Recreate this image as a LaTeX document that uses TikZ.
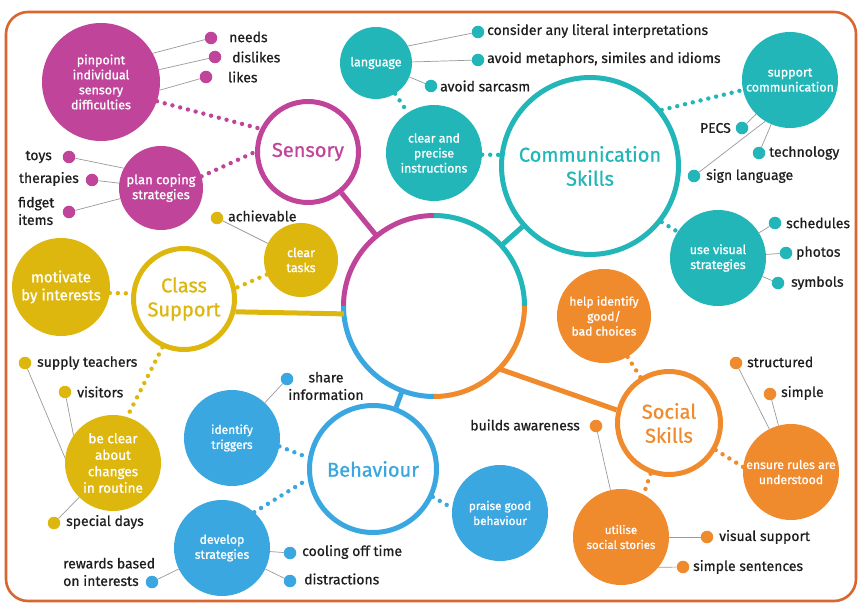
\documentclass[tikz,border=0pt]{standalone}
\usepackage{fontspec}
\setmainfont{Fira Sans}
\newfontfamily\lblfont{Fira Sans}[FakeBold=0.7]
\newfontfamily\blobfont{Fira Sans}[FakeBold=1.1]
\newfontfamily\ringfont{Fira Sans}[FakeBold=0.8]
\definecolor{cmag}{HTML}{C1449B}
\definecolor{cteal}{HTML}{22B6B8}
\definecolor{cyel}{HTML}{DDB70E}
\definecolor{cblue}{HTML}{3AA7E0}
\definecolor{corg}{HTML}{EF8A2D}
\definecolor{cbord}{HTML}{D9652F}
\definecolor{clbl}{HTML}{1E1E1E}
\definecolor{cthin}{HTML}{9A9A9A}
\begin{document}
\begin{tikzpicture}[x=1pt,y=-1pt,
 ring/.style={circle, draw=#1, line width=5pt, fill=white, inner sep=0pt, text=#1, align=center, font=\ringfont\fontsize{20}{24}\selectfont},
 blob/.style={circle, fill=#1, inner sep=0pt, text=white, align=center, font=\blobfont\fontsize{12.3}{15}\selectfont},
 pip/.style={circle, fill=#1, inner sep=0pt, minimum size=12.5pt},
 lbl/.style={text=clbl, inner sep=0pt, font=\lblfont\fontsize{14}{17.5}\selectfont},
 thin/.style={draw=cthin, line width=0.7pt},
 dotline/.style={draw=#1, line width=4.4pt, line cap=round, dash pattern=on 0pt off 8pt},
 hubline/.style={draw=#1, line width=5pt},
]
\useasboundingbox (0,0) rectangle (865,604);
\fill[white] (0,0) rectangle (865,604);
\draw[cbord, line width=2.6pt, rounded corners=22pt] (6,12) rectangle (856,601);

% hub
\node[circle, minimum size=181pt, inner sep=0pt, outer sep=0pt] (hub) at (434,306) {};
\draw[cmag, line width=5pt] (hub.west) arc[start angle=180, end angle=90, radius=90.5pt];
\draw[cteal, line width=5pt] (hub.north) arc[start angle=90, end angle=0, radius=90.5pt];
\draw[corg, line width=5pt] (hub.east) arc[start angle=0, end angle=-90, radius=90.5pt];
\draw[cblue, line width=5pt] (hub.south) arc[start angle=-90, end angle=-180, radius=90.5pt];

% rings
\node[ring=cmag, minimum size=101pt] (sens) at (308,152) {Sensory};
\node[ring=cteal, minimum size=177pt] (comm) at (590,166) {Communication\\Skills};
\node[ring=cyel, minimum size=101pt] (class) at (184,299) {Class\\Support};
\node[ring=cblue, minimum size=127pt] (beh) at (373,469) {Behaviour};
\node[ring=corg, minimum size=103pt] (soc) at (669,423) {Social\\Skills};

\draw[hubline=cmag] (hub) -- (sens);
\draw[hubline=cteal] (hub) -- (comm);
\draw[hubline=cyel] (class.-14) -- (hub.185);
\draw[hubline=cblue] (hub) -- (beh);
\draw[hubline=corg] (hub.-44) -- (soc.166);

% ---------- Sensory
\node[blob=cmag, minimum size=118pt, font=\blobfont\fontsize{12.5}{15}\selectfont] (pin) at (101,82) {pinpoint\\individual\\sensory\\difficulties};
\node[blob=cmag, minimum size=84pt, font=\blobfont\fontsize{13}{15}\selectfont] (plan) at (161,188) {plan coping\\strategies};
\node[pip=cmag] (pneeds) at (211,38) {};
\node[lbl, anchor=west] (tneeds) at (229,37) {needs};
\node[pip=cmag] (pdis) at (215,57) {};
\node[lbl, anchor=west] (tdis) at (232,57) {dislikes};
\node[pip=cmag] (plikes) at (206,77) {};
\node[lbl, anchor=west] (tlikes) at (228,77) {likes};
\node[pip=cmag] (ptoys) at (69,157) {};
\node[lbl, anchor=east] (ttoys) at (52,157) {toys};
\node[pip=cmag] (pther) at (92,180) {};
\node[lbl, anchor=east] (tther) at (79,179) {therapies};
\node[pip=cmag] (pfid) at (69,212) {};
\node[lbl, anchor=west, align=left] (tfid) at (18,211) {fidget\\items};
\draw[thin] (pneeds) -- (pin.29);
\draw[thin] (pdis) -- (pin.12);
\draw[thin] (plikes) -- (pin.-8);
\draw[thin] (ptoys) -- (plan.152);
\draw[thin] (pther) -- (plan);
\draw[thin] (pfid) -- (plan);
\draw[dotline=cmag] (pin.-19) -- (sens.154);
\draw[dotline=cmag] (plan.16) -- (sens.180);

% ---------- Communication
\node[blob=cteal, minimum size=72pt, font=\blobfont\fontsize{12.5}{15}\selectfont] (lang) at (376,63) {language};
\node[blob=cteal, minimum size=96pt] (clear) at (434,153) {clear and\\precise\\instructions};
\node[blob=cteal, minimum size=96pt, font=\blobfont\fontsize{12.5}{15}\selectfont] (supp) at (790,80) {support\\communication};
\node[blob=cteal, minimum size=96pt, font=\blobfont\fontsize{12.5}{15}\selectfont] (vis) at (718,258) {use visual\\strategies};
\node[pip=cteal] (pcons) at (478,32) {};
\node[lbl, anchor=west] (tcons) at (487,31) {consider any literal interpretations};
\node[pip=cteal] (pmet) at (478,60) {};
\node[lbl, anchor=west] (tmet) at (487,59) {avoid metaphors, similes and idioms};
\node[pip=cteal] (psar) at (431,86) {};
\node[lbl, anchor=west] (tsar) at (440,86) {avoid sarcasm};
\node[pip=cteal] (ppecs) at (742,128) {};
\node[lbl, anchor=east] (tpecs) at (731,128) {PECS};
\node[pip=cteal] (ptech) at (759,153) {};
\node[lbl, anchor=west] (ttech) at (769,153) {technology};
\node[pip=cteal] (psign) at (694,176) {};
\node[lbl, anchor=west] (tsign) at (706,176) {sign language};
\node[pip=cteal] (psch) at (775,223) {};
\node[lbl, anchor=west] (tsch) at (786,223) {schedules};
\node[pip=cteal] (ppho) at (786,253) {};
\node[lbl, anchor=west] (tpho) at (796,253) {photos};
\node[pip=cteal] (psym) at (778,283) {};
\node[lbl, anchor=west] (tsym) at (791,283) {symbols};
\draw[thin] (lang.28) -- (pcons);
\draw[thin] (lang) -- (pmet);
\draw[thin] (lang) -- (psar);
\draw[thin] (supp) -- (ppecs);
\draw[thin] (supp) -- (ptech);
\draw[thin] (supp.239) -- (psign);
\draw[thin] (vis) -- (psch);
\draw[thin] (vis) -- (ppho);
\draw[thin] (vis) -- (psym);
\draw[dotline=cteal] (lang.-58) -- (clear.123);
\draw[dotline=cteal] (clear.-2) -- (comm.173);
\draw[dotline=cteal] (comm.38) -- (supp.192);
\draw[dotline=cteal] (comm.-38) -- (vis.147);

% ---------- Class support
\node[blob=cyel, minimum size=98pt, font=\blobfont\fontsize{15}{18}\selectfont] (mot) at (61,287) {motivate\\by interests};
\node[blob=cyel, minimum size=74pt, font=\blobfont\fontsize{12.5}{15}\selectfont] (task) at (301,260) {clear\\tasks};
\node[blob=cyel, minimum size=96pt, font=\blobfont\fontsize{13.5}{16.5}\selectfont] (bec) at (113,463) {be clear\\about\\changes\\in routine};
\node[pip=cyel] (pach) at (217,218) {};
\node[lbl, anchor=west] (tach) at (228,216) {achievable};
\node[pip=cyel] (psup) at (25,363) {};
\node[lbl, anchor=west] (tsup) at (37,363) {supply teachers};
\node[pip=cyel] (pvis) at (65,392) {};
\node[lbl, anchor=west] (tvis) at (77,392) {visitors};
\node[pip=cyel] (pspe) at (54,523) {};
\node[lbl, anchor=west] (tspe) at (66,522) {special days};
\draw[thin] (pach) -- (task);
\draw[thin] (psup) -- (bec.174);
\draw[thin] (pvis) -- (bec.145);
\draw[thin] (pspe) -- (bec);
\draw[dotline=cyel] (mot.-7) -- (class.174);
\draw[dotline=cyel] (task.203) -- (class.12);
\draw[dotline=cyel] (class.246) -- (bec.73);

% ---------- Behaviour
\node[blob=cblue, minimum size=96pt, font=\blobfont\fontsize{12}{15}\selectfont] (trig) at (232,438) {identify\\triggers};
\node[blob=cblue, minimum size=96pt] (dev) at (222,548) {develop\\strategies};
\node[blob=cblue, minimum size=96pt, font=\blobfont\fontsize{11.7}{15}\selectfont] (pra) at (500,513) {praise good\\behaviour};
\node[pip=cblue] (psha) at (287,379) {};
\node[lbl, align=center] (tsha) at (326,386) {share\\information};
\node[pip=cblue] (pcoo) at (290,553) {};
\node[lbl, anchor=west] (tcoo) at (302,552) {cooling off time};
\node[pip=cblue] (pdst) at (290,581) {};
\node[lbl, anchor=west] (tdst) at (304,579) {distractions};
\node[pip=cblue] (prew) at (152,582) {};
\node[lbl, anchor=west, align=left] (trew) at (63,572) {rewards based\\on interests};
\draw[thin] (trig) -- (psha);
\draw[thin] (dev) -- (pcoo);
\draw[thin] (dev) -- (pdst);
\draw[thin] (dev) -- (prew);
\draw[dotline=cblue] (trig.-10) -- (beh.170);
\draw[dotline=cblue] (dev.48) -- (beh.189);
\draw[dotline=cblue] (beh.-25) -- (pra.174);

% ---------- Social skills
\node[blob=corg, minimum size=94pt, font=\blobfont\fontsize{12}{15}\selectfont] (help) at (604,316) {help identify\\good/\\bad choices};
\node[blob=corg, minimum size=96pt, font=\blobfont\fontsize{12.2}{15}\selectfont] (ens) at (791,472) {ensure rules are\\understood};
\node[blob=corg, minimum size=96pt, font=\blobfont\fontsize{11.5}{15}\selectfont] (uti) at (621,537) {utilise\\social stories};
\node[pip=corg] (pstr) at (736,363) {};
\node[lbl, anchor=west] (tstr) at (747,362) {structured};
\node[pip=corg] (psim) at (770,394) {};
\node[lbl, anchor=west] (tsim) at (781,393) {simple};
\node[pip=corg] (pbui) at (596,426) {};
\node[lbl, anchor=east] (tbui) at (580,425) {builds awareness};
\node[pip=corg] (pvsu) at (707,537) {};
\node[lbl, anchor=west] (tvsu) at (719,537) {visual support};
\node[pip=corg] (pssn) at (683,567) {};
\node[lbl, anchor=west] (tssn) at (693,567) {simple sentences};
\draw[thin] (pstr) -- (ens);
\draw[thin] (psim) -- (ens);
\draw[thin] (pbui) -- (uti);
\draw[thin] (uti) -- (pvsu);
\draw[thin] (uti.-39) -- (pssn);
\draw[dotline=corg] (help.-60) -- (soc.122);
\draw[dotline=corg] (soc.-30) -- (ens.174);
\draw[dotline=corg] (soc.250) -- (uti.62);
\end{tikzpicture}
\end{document}
